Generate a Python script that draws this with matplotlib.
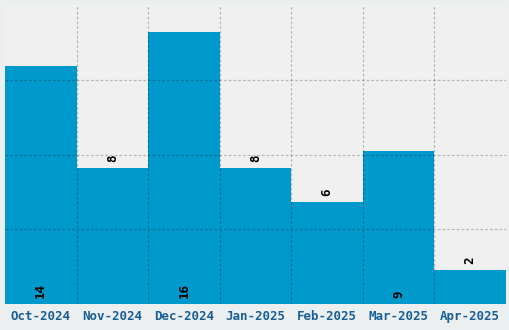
import numpy as np
import matplotlib.pyplot as plt

months = ['Oct-2024', 'Nov-2024', 'Dec-2024', 'Jan-2025', 'Feb-2025', 'Mar-2025', 'Apr-2025']
counts = [14, 8, 16, 8, 6, 9, 2]

fig = plt.figure(figsize=(5.1, 3.3), dpi=100)
fig.patch.set_facecolor('#eceff0')
ax = fig.add_axes([5/510, 26/330, 501/510, 299/330])
ax.set_facecolor('#f0f0f0')

x = np.arange(len(months))
ax.bar(x, counts, width=1.0, color='#0099cc', zorder=1)

ymax = max(counts) * 1.1
ax.set_xlim(-0.5, len(months) - 0.5)
ax.set_ylim(0, ymax)

# grid on top of the bars
dash = (0, (2.2, 1.6))
for xv in x[:-1] + 0.5:
    ax.axvline(xv, color='black', alpha=0.23, lw=0.9, ls=dash, zorder=3)
for yv in np.linspace(0, ymax, 5)[1:-1]:
    ax.axhline(yv, color='black', alpha=0.23, lw=0.9, ls=dash, zorder=3)

for xi, v in zip(x, counts):
    if v >= 9:
        ax.text(xi, 0.35, str(v), rotation=90, ha='center', va='bottom',
                family='DejaVu Sans Mono', fontweight='bold', fontsize=9, color='black', zorder=4)
    else:
        ax.text(xi, v + 0.35, str(v), rotation=90, ha='center', va='bottom',
                family='DejaVu Sans Mono', fontweight='bold', fontsize=9, color='black', zorder=4)

ax.set_xticks(x)
ax.set_xticklabels(months, family='DejaVu Sans Mono', fontweight='bold', fontsize=9, color='#1a5f96')
ax.set_yticks([])
ax.tick_params(axis='x', length=0, pad=4)
for s in ax.spines.values():
    s.set_visible(False)

fig.savefig('out.png', dpi=100, facecolor=fig.get_facecolor())
